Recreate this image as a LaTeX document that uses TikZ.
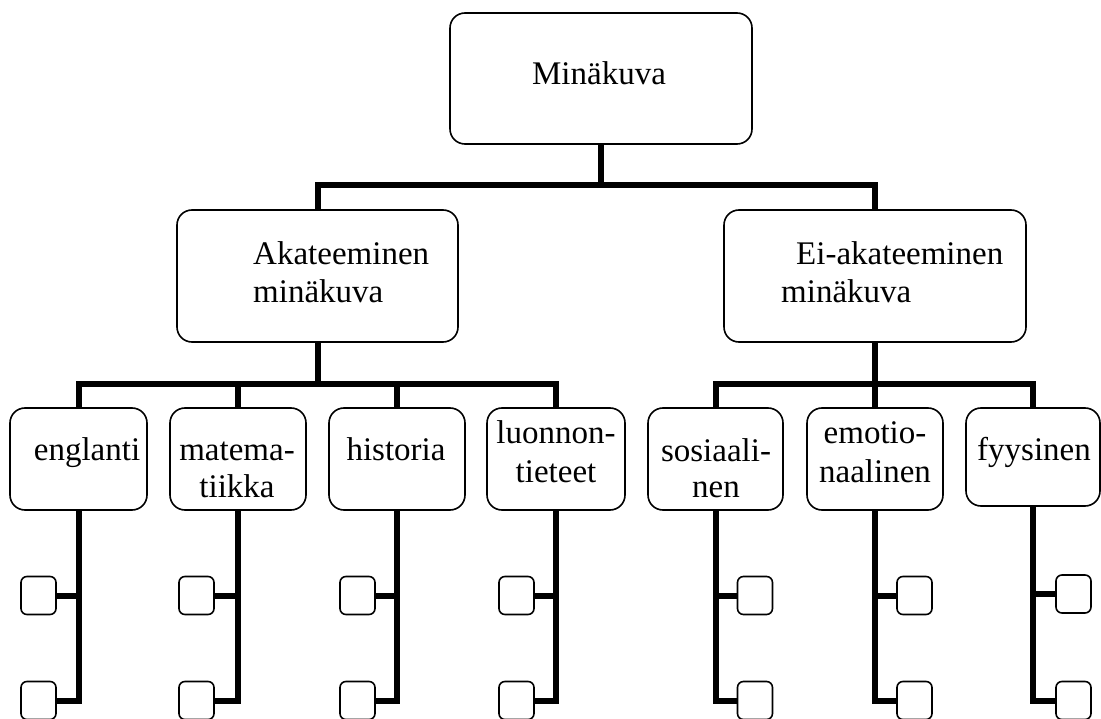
\documentclass[tikz,border=0pt]{standalone}
\usepackage{fontspec}
\setmainfont{Liberation Serif}

\begin{document}
\begin{tikzpicture}[x=1pt,y=-1pt]
\tikzstyle{every node}=[inner sep=0pt, font=\fontsize{33}{38}\selectfont]
\tikzstyle{bigbox}=[draw, rounded corners=15pt, line width=1.6pt]
\tikzstyle{kidbox}=[bigbox, minimum height=102pt]
\tikzstyle{smallbox}=[draw, rounded corners=6pt, line width=1.6pt, minimum width=35pt, minimum height=38pt]
\tikzstyle{txt}=[anchor=base, align=center]
\tikzstyle{conn}=[line width=6pt]
\useasboundingbox (0,0) rectangle (1101,719);
% upper levels
\draw (601,78.5) node (mk) [bigbox, minimum width=302pt, minimum height=131pt] {};
\draw (599,85) node (mkt) [txt] {Minäkuva};
\draw (317.5,276) node (ak) [bigbox, minimum width=281pt, minimum height=132pt] {};
\draw (253,303) node (akt) [anchor=base west, align=left] {Akateeminen\\minäkuva};
\draw (875,276) node (ei) [bigbox, minimum width=302pt, minimum height=132pt] {};
\draw (781,303) node (eit) [anchor=base west, align=left] {\hspace*{15pt}Ei-akateeminen\\minäkuva};
% subjects
\draw (78.5,459) node (en) [kidbox, minimum width=137pt] {};
\draw (87,460) node (ent) [txt] {englanti};
\draw (238,459) node (ma) [kidbox, minimum width=136pt] {};
\draw (237,497) node (mat) [txt, font=\fontsize{33}{37}\selectfont] {matema-\\tiikka};
\draw (397,459) node (hi) [kidbox, minimum width=136pt] {};
\draw (396,460) node (hit) [txt] {historia};
\draw (556,459) node (lu) [kidbox, minimum width=138pt] {};
\draw (556,482) node (lut) [txt, font=\fontsize{33}{39}\selectfont] {luonnon-\\tieteet};
\draw (715.5,459) node (so) [kidbox, minimum width=135pt] {};
\draw (716,497) node (sot) [txt, font=\fontsize{33}{36}\selectfont] {sosiaali-\\nen};
\draw (875,459) node (em) [kidbox, minimum width=136pt] {};
\draw (875,482) node (emt) [txt, font=\fontsize{33}{39}\selectfont] {emotio-\\naalinen};
\draw (1033,457) node (fy) [bigbox, minimum width=134pt, minimum height=98pt] {};
\draw (1034,460) node (fyt) [txt] {fyysinen};
% empty boxes
\draw (38.5,595.5) node (en1) [smallbox] {};
\draw (38.5,700.5) node (en2) [smallbox] {};
\draw (196.5,595.5) node (ma1) [smallbox] {};
\draw (196.5,700.5) node (ma2) [smallbox] {};
\draw (357.5,595.5) node (hi1) [smallbox] {};
\draw (357.5,700.5) node (hi2) [smallbox] {};
\draw (516.5,595.5) node (lu1) [smallbox] {};
\draw (516.5,700.5) node (lu2) [smallbox] {};
\draw (755,595.5) node (so1) [smallbox] {};
\draw (755,700.5) node (so2) [smallbox] {};
\draw (914.5,595.5) node (em1) [smallbox] {};
\draw (914.5,700.5) node (em2) [smallbox] {};
\draw (1073.5,594) node (fy1) [smallbox] {};
\draw (1073.5,700.5) node (fy2) [smallbox] {};
% connectors
\draw[conn] (mk.south) -- ++(0,40) -| (ak.north);
\draw[conn] (mk.south) -- ++(0,40) -| (ei.north);
\draw[conn] (ak.south) -- ++(0,41) -| (en.north);
\draw[conn] (ak.south) -- ++(0,41) -| (ma.north);
\draw[conn] (ak.south) -- ++(0,41) -| (hi.north);
\draw[conn] (ak.south) -- ++(0,41) -| (lu.north);
\draw[conn] (ei.south) -- ++(0,41) -| (so.north);
\draw[conn] (ei.south) -- ++(0,41) -| (em.north);
\draw[conn] (ei.south) -- ++(0,41) -| (fy.north);
\draw[conn] (en.south) |- (en1.east);
\draw[conn] (en.south) |- (en2.east);
\draw[conn] (ma.south) |- (ma1.east);
\draw[conn] (ma.south) |- (ma2.east);
\draw[conn] (hi.south) |- (hi1.east);
\draw[conn] (hi.south) |- (hi2.east);
\draw[conn] (lu.south) |- (lu1.east);
\draw[conn] (lu.south) |- (lu2.east);
\draw[conn] (so.south) |- (so1.west);
\draw[conn] (so.south) |- (so2.west);
\draw[conn] (em.south) |- (em1.west);
\draw[conn] (em.south) |- (em2.west);
\draw[conn] (fy.south) |- (fy1.west);
\draw[conn] (fy.south) |- (fy2.west);
\end{tikzpicture}
\end{document}
